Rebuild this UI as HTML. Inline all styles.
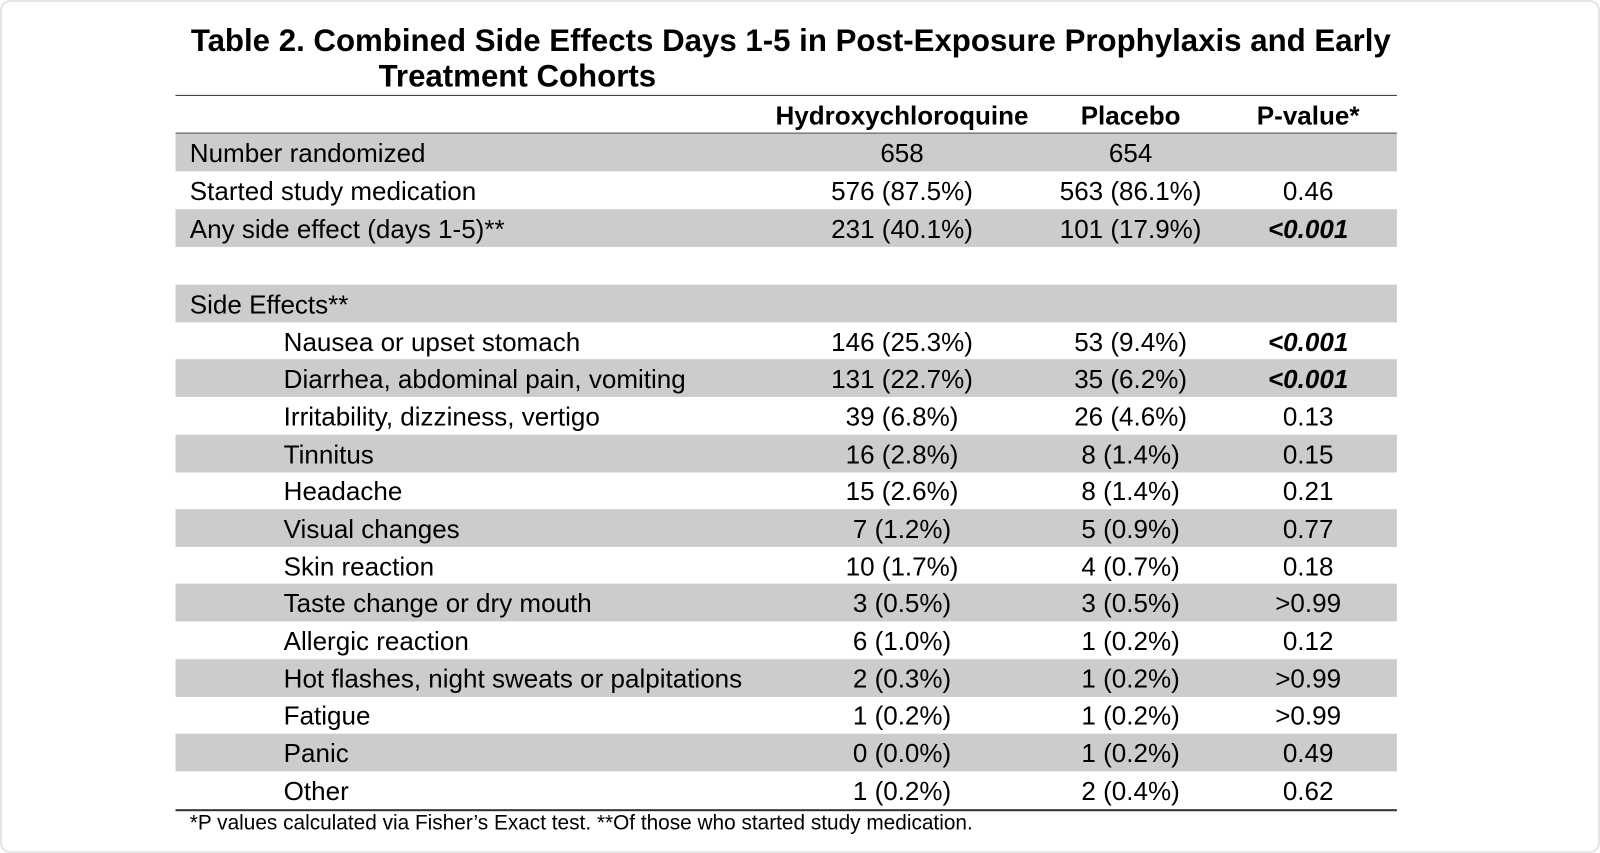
<!DOCTYPE html>
<html><head><meta charset="utf-8"><style>
body{margin:0;background:#fff;width:1600px;height:853px;overflow:hidden;font-family:"Liberation Sans",Arial,sans-serif;color:#000;position:relative;}
.frame{position:absolute;left:0;top:0;width:1596px;height:849px;border:2px solid #e6e6e6;border-radius:10px;box-sizing:content-box;}
.wrap{position:absolute;left:0;top:0;width:1568px;height:836px;transform:scale(1.0204);transform-origin:0 0;}
.t{position:absolute;font-weight:bold;font-size:30.6px;white-space:nowrap;}
.row{position:absolute;left:172px;width:1197px;height:37px;font-size:25.5px;line-height:37px;}
.g{background:#cccccc;}
.row span{position:absolute;top:1.5px;white-space:nowrap;}
.l{left:14px}.i{left:106px}
.c1{left:612px;width:200px;text-align:center}
.c2{left:836px;width:200px;text-align:center}
.c3{left:1060px;width:100px;text-align:center}
.hr{position:absolute;left:172px;width:1197px;height:1px;background:#333;}
.b{font-weight:bold;font-style:italic}
</style></head><body>
<div class="frame"></div>
<div class="wrap">
<div class="t" style="left:187px;top:23px">Table 2. Combined Side Effects Days 1-5 in Post-Exposure Prophylaxis and Early</div>
<div class="t" style="left:371px;top:58px">Treatment Cohorts</div>
<div class="hr" style="top:93px"></div>
<div class="row" style="top:94px;font-weight:bold"><span class="c1" style="left:582px;width:260px">Hydroxychloroquine</span><span class="c2">Placebo</span><span class="c3" style="left:1050px;width:120px">P-value*</span></div>
<div class="hr" style="top:130px"></div>
<div class="row g" style="top:131px"><span class="l">Number randomized</span><span class="c1">658</span><span class="c2">654</span></div>
<div class="row" style="top:168px"><span class="l">Started study medication</span><span class="c1">576 (87.5%)</span><span class="c2">563 (86.1%)</span><span class="c3">0.46</span></div>
<div class="row g" style="top:205px"><span class="l">Any side effect (days 1-5)**</span><span class="c1">231 (40.1%)</span><span class="c2">101 (17.9%)</span><span class="c3 b">&lt;0.001</span></div>
<div class="row g" style="top:279px"><span class="l">Side Effects**</span></div>
<div class="row" style="top:316px"><span class="i">Nausea or upset stomach</span><span class="c1">146 (25.3%)</span><span class="c2">53 (9.4%)</span><span class="c3 b">&lt;0.001</span></div>
<div class="row g" style="top:352px"><span class="i">Diarrhea, abdominal pain, vomiting</span><span class="c1">131 (22.7%)</span><span class="c2">35 (6.2%)</span><span class="c3 b">&lt;0.001</span></div>
<div class="row" style="top:389px"><span class="i">Irritability, dizziness, vertigo</span><span class="c1">39 (6.8%)</span><span class="c2">26 (4.6%)</span><span class="c3">0.13</span></div>
<div class="row g" style="top:426px"><span class="i">Tinnitus</span><span class="c1">16 (2.8%)</span><span class="c2">8 (1.4%)</span><span class="c3">0.15</span></div>
<div class="row" style="top:462px"><span class="i">Headache</span><span class="c1">15 (2.6%)</span><span class="c2">8 (1.4%)</span><span class="c3">0.21</span></div>
<div class="row g" style="top:499px"><span class="i">Visual changes</span><span class="c1">7 (1.2%)</span><span class="c2">5 (0.9%)</span><span class="c3">0.77</span></div>
<div class="row" style="top:536px"><span class="i">Skin reaction</span><span class="c1">10 (1.7%)</span><span class="c2">4 (0.7%)</span><span class="c3">0.18</span></div>
<div class="row g" style="top:572px"><span class="i">Taste change or dry mouth</span><span class="c1">3 (0.5%)</span><span class="c2">3 (0.5%)</span><span class="c3">&gt;0.99</span></div>
<div class="row" style="top:609px"><span class="i">Allergic reaction</span><span class="c1">6 (1.0%)</span><span class="c2">1 (0.2%)</span><span class="c3">0.12</span></div>
<div class="row g" style="top:646px"><span class="i">Hot flashes, night sweats or palpitations</span><span class="c1">2 (0.3%)</span><span class="c2">1 (0.2%)</span><span class="c3">&gt;0.99</span></div>
<div class="row" style="top:682px"><span class="i">Fatigue</span><span class="c1">1 (0.2%)</span><span class="c2">1 (0.2%)</span><span class="c3">&gt;0.99</span></div>
<div class="row g" style="top:719px"><span class="i">Panic</span><span class="c1">0 (0.0%)</span><span class="c2">1 (0.2%)</span><span class="c3">0.49</span></div>
<div class="row" style="top:756px"><span class="i">Other</span><span class="c1">1 (0.2%)</span><span class="c2">2 (0.4%)</span><span class="c3">0.62</span></div>
<div class="hr" style="top:793px;height:2px"></div>
<div style="position:absolute;left:186px;top:796px;font-size:20.4px;white-space:nowrap">*P values calculated via Fisher’s Exact test. **Of those who started study medication.</div>
</div>
</body></html>
